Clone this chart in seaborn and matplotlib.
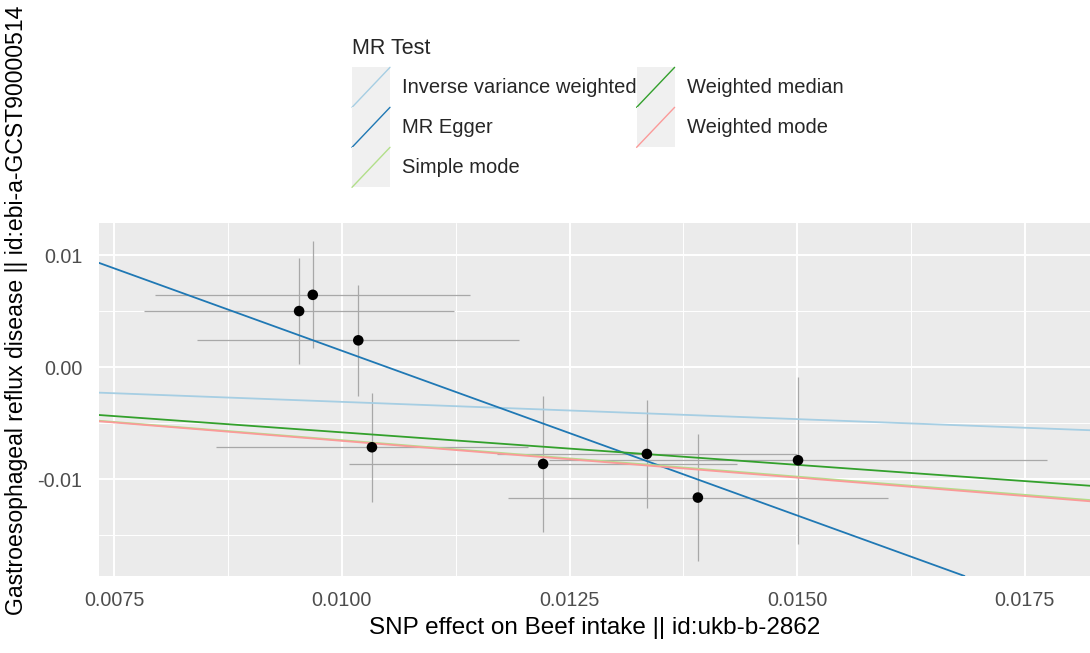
import numpy as np
import pandas as pd
import matplotlib
matplotlib.use("Agg")
import matplotlib.pyplot as plt
import seaborn as sns
from matplotlib.legend_handler import HandlerBase
from matplotlib.patches import Rectangle
from matplotlib.lines import Line2D
from matplotlib.ticker import FixedLocator

# ---------------- data ----------------
beta_exposure = [0.00953, 0.00968, 0.01018, 0.01033, 0.01221, 0.01335, 0.01391, 0.01501]
beta_outcome = [0.00502, 0.00647, 0.00241, -0.00713, -0.00862, -0.00773, -0.01162, -0.00829]
se_exposure = [0.00170, 0.00173, 0.00177, 0.00171, 0.00213, 0.00165, 0.00209, 0.00274]
se_outcome = [0.00475, 0.00478, 0.00494, 0.00486, 0.00605, 0.00479, 0.00570, 0.00743]

methods = ["Inverse variance weighted", "MR Egger", "Simple mode", "Weighted median", "Weighted mode"]
intercepts = [0.0, 0.03087, 0.0, 0.0, 0.0]
slopes = [-0.308, -2.939, -0.650, -0.580, -0.656]
method_colors = ["#A6CEE3", "#1F78B4", "#B2DF8A", "#33A02C", "#FB9A99"]

x_ticks = [0.0075, 0.0100, 0.0125, 0.0150, 0.0175]
x_tick_labels = ["0.0075", "0.0100", "0.0125", "0.0150", "0.0175"]
y_ticks = [-0.01, 0.00, 0.01]
y_tick_labels = ["-0.01", "0.00", "0.01"]
x_label = "SNP effect on Beef intake || id:ukb-b-2862"
y_label = "Gastroesophageal reflux disease || id:ebi-a-GCST90000514"
legend_title = "MR Test"

df = pd.DataFrame({"x": beta_exposure, "y": beta_outcome,
                   "sx": se_exposure, "sy": se_outcome})

# ---------------- style ----------------
sns.set_theme(style="darkgrid")
plt.rcParams["font.family"] = ["Liberation Sans", "DejaVu Sans"]

W, H = 1090, 653
fig = plt.figure(figsize=(W / 100, H / 100), dpi=100)
fig.patch.set_facecolor("white")
ax = fig.add_axes([99 / W, 1 - 576 / H, (1090 - 99) / W, (576 - 223) / H])
ax.set_facecolor("#EBEBEB")
for s in ax.spines.values():
    s.set_visible(False)

ax.set_xlim(0.007332, 0.018217)
ax.set_ylim(-0.018618, 0.012879)

ax.set_xticks(x_ticks)
ax.set_xticklabels(x_tick_labels)
ax.set_yticks(y_ticks)
ax.set_yticklabels(y_tick_labels)
xminor = [(a + b) / 2 for a, b in zip(x_ticks[:-1], x_ticks[1:])] + [x_ticks[0] - 0.00125]
yminor = [(a + b) / 2 for a, b in zip(y_ticks[:-1], y_ticks[1:])] + [y_ticks[0] - 0.005]
ax.xaxis.set_minor_locator(FixedLocator(xminor))
ax.yaxis.set_minor_locator(FixedLocator(yminor))
ax.grid(which="major", color="white", linewidth=1.4)
ax.grid(which="minor", color="white", linewidth=0.7)
ax.set_axisbelow(True)
ax.tick_params(axis="both", which="major", length=4.6, width=0.9, color="#333333",
               labelsize=14.2, labelcolor="#4D4D4D")
ax.tick_params(axis="x", which="major", pad=6.5)
ax.tick_params(axis="y", which="major", pad=7.5)
ax.tick_params(which="minor", length=0)

# error bars
ax.hlines(df["y"], df["x"] - df["sx"], df["x"] + df["sx"], color="#A8A8A8", linewidth=0.9, zorder=2)
ax.vlines(df["x"], df["y"] - df["sy"], df["y"] + df["sy"], color="#A8A8A8", linewidth=0.9, zorder=2)

# method lines
handles = []
for m, a, b, c in zip(methods, intercepts, slopes, method_colors):
    ax.axline((0, a), slope=b, color=c, linewidth=1.3, zorder=3)
    handles.append(Line2D([], [], color=c, linewidth=1.0, label=m))

# points
sns.scatterplot(data=df, x="x", y="y", color="black", s=58, edgecolor="none", ax=ax, zorder=4)

ax.set_xlabel(x_label, fontsize=17.5, color="black")
ax.set_ylabel("")
ax.xaxis.set_label_coords(0.5, (576 - 628) / 353)
ax.xaxis.label.set_va("center")

fig.text(17 / W, 1 - 615 / H, y_label, rotation=90, ha="center", va="bottom",
         fontsize=16.6, color="black")


class AblineKey(HandlerBase):
    def create_artists(self, legend, orig_handle, xdescent, ydescent, width, height, fontsize, trans):
        rect = Rectangle((-xdescent, -ydescent), width, height, facecolor="#F0F0F0",
                         edgecolor="none", transform=trans)
        line = Line2D([-xdescent, -xdescent + width], [-ydescent, -ydescent + height],
                      color=orig_handle.get_color(), linewidth=orig_handle.get_linewidth(),
                      transform=trans)
        return [rect, line]


fs = 14.5
px = fs * 100 / 72
key_h = 40.0
hh = (key_h / px - 0.245) / 0.65
leg = fig.legend(handles=handles, labels=methods, loc="upper left",
                 bbox_to_anchor=(352 / W, 1 - 38 / H), ncol=2, frameon=False,
                 title=legend_title, title_fontsize=15.5, fontsize=fs,
                 handler_map={Line2D: AblineKey()},
                 handlelength=38 / px, handleheight=hh, labelspacing=0.0,
                 handletextpad=12 / px, columnspacing=0.0, borderpad=0,
                 borderaxespad=0, alignment="left")
leg._legend_box.sep = 6

fig.savefig("out.png", dpi=100, facecolor="white")
